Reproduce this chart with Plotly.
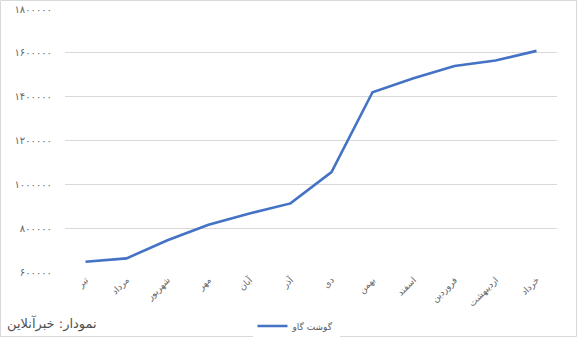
import plotly.graph_objects as go

months = ["تیر", "مرداد", "شهریور", "مهر", "آبان", "آذر", "دی", "بهمن",
          "اسفند", "فروردین", "اردیبهشت", "خرداد"]
beef_price = [647000, 662000, 745000, 816000, 867000, 913000, 1056000,
              1420000, 1484000, 1540000, 1565000, 1609000]
y_tick_vals = [600000, 800000, 1000000, 1200000, 1400000, 1600000, 1800000]
y_tick_text = ["۶۰۰۰۰۰", "۸۰۰۰۰۰", "۱۰۰۰۰۰۰", "۱۲۰۰۰۰۰", "۱۴۰۰۰۰۰", "۱۶۰۰۰۰۰", "۱۸۰۰۰۰۰"]
series_name = "گوشت گاو"
credit = "نمودار: خبرآنلاین"

FONT = "DejaVu Sans"
W, H = 577, 337
L, R, T, B = 65, 20, 9, 65
pw, ph = W - L - R, H - T - B

fig = go.Figure()
fig.add_trace(go.Scatter(
    x=months, y=beef_price, mode="lines", name=series_name,
    line=dict(color="#4472C4", width=2.6),
))

fig.update_layout(
    width=W, height=H,
    margin=dict(l=L, r=R, t=T, b=B, autoexpand=False),
    paper_bgcolor="white", plot_bgcolor="white",
    font=dict(family=FONT, color="#595959", size=9),
    showlegend=True,
    legend=dict(orientation="h", x=0.5 - 15 / pw, xanchor="center",
                y=-(326 - (H - B)) / ph, yanchor="middle",
                font=dict(size=9, color="#595959"), itemwidth=30),
    xaxis=dict(range=[-0.5, 11.5], tickangle=-45, showgrid=False, zeroline=False,
               showline=False, ticks="", automargin=False,
               tickfont=dict(size=9, color="#666666")),
    yaxis=dict(range=[600000, 1800000], tickvals=y_tick_vals, ticktext=y_tick_text,
               showgrid=True, gridcolor="#D9D9D9", gridwidth=1, zeroline=False,
               showline=False, ticks="", ticklabelstandoff=12, automargin=False,
               tickfont=dict(size=10, color="#666666")),
    annotations=[dict(text=credit, xref="paper", yref="paper",
                      x=-60 / pw, y=-(323 - (H - B)) / ph,
                      xanchor="left", yanchor="middle", showarrow=False,
                      font=dict(size=13, color="#505050", family=FONT))],
    shapes=[dict(type="rect", xref="paper", yref="paper",
                 x0=-(L - 0.5) / pw, x1=1 + (R - 0.5) / pw,
                 y0=-(B - 0.5) / ph, y1=1 + (T - 0.5) / ph,
                 line=dict(color="#D9D9D9", width=1), fillcolor="rgba(0,0,0,0)")],
)

fig.write_html("out.html")
